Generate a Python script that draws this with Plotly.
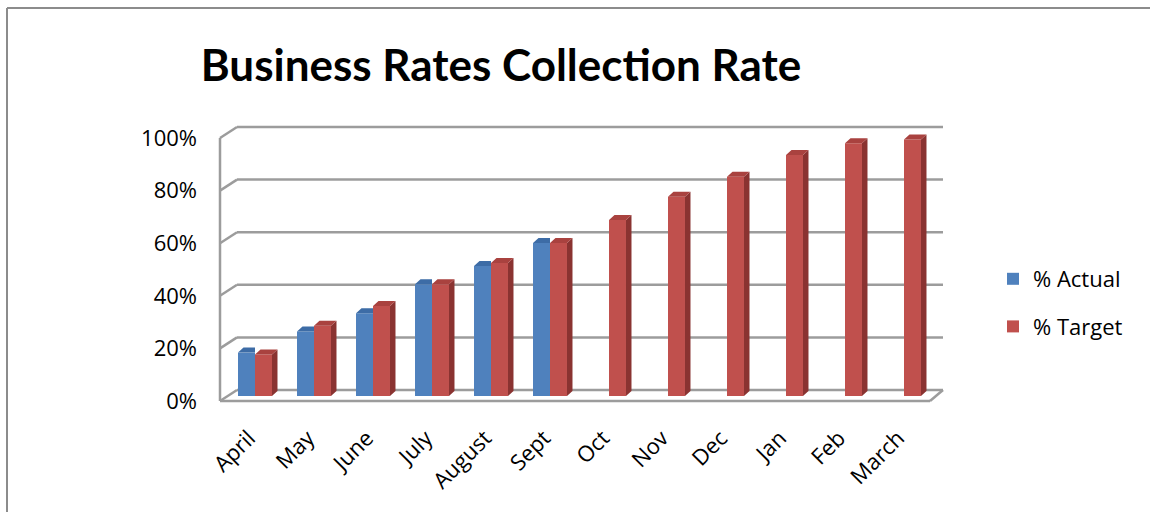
import plotly.graph_objects as go

# ---- data ----
months = ["April", "May", "June", "July", "August", "Sept",
          "Oct", "Nov", "Dec", "Jan", "Feb", "March"]
actual = [0.165, 0.245, 0.315, 0.425, 0.494, 0.582]
target = [0.158, 0.267, 0.342, 0.425, 0.506, 0.582,
          0.669, 0.758, 0.834, 0.916, 0.961, 0.975]
y_ticks = [0, 0.2, 0.4, 0.6, 0.8, 1.0]

# ---- styling ----
BLUE, BLUE_TOP = "#4F81BD", "#3D6CA6"
RED, RED_TOP, RED_SIDE = "#C0504D", "#A9423F", "#8A3331"
GRID = "#9C9C9C"
FONT = "Open Sans"

W, H = 1150, 512
# plot area in pixels and the pixel scale of the category / value axes
PX_L, PX_R, PX_T, PX_B = 214, 948, 118, 408
CAT0, CAT_STEP = 255, 59      # pixel of first category centre, px per category
VAL0, VAL_SCALE = 396, 263    # pixel of value 0 on the bar plane, px per 1.0


def xd(px):
    return (px - CAT0) / CAT_STEP


def yd(py):
    return (VAL0 - py) / VAL_SCALE


BAR_W = 0.288                 # width of a single column (category units)
DX, DY = 5.5 / CAT_STEP, 5 / VAL_SCALE   # 3-D extrusion of the columns
FRONT, BACK = yd(401), yd(390)           # floor offsets of front / back planes
XF_L, XB_L, XB_R, XF_R = xd(220), xd(237), xd(943), xd(930)

xa = [i - BAR_W / 2 for i in range(len(actual))]
xt = [i + BAR_W / 2 for i in range(len(target))]

fig = go.Figure()

fig.add_trace(go.Bar(x=xa, y=actual, width=BAR_W, name="% Actual",
                     marker=dict(color=BLUE, line=dict(width=0)),
                     legendgroup="a"))
fig.add_trace(go.Bar(x=xt, y=target, width=BAR_W, name="% Target",
                     marker=dict(color=RED, line=dict(width=0)),
                     legendgroup="t"))


def top_faces(xs, vals, clip_right):
    px, py = [], []
    for x, v in zip(xs, vals):
        l, r = x - BAR_W / 2, x + BAR_W / 2
        rr = r if clip_right else r + DX
        px += [l, r, rr, l + DX, l, None]
        py += [v, v, v + DY, v + DY, v, None]
    return px, py


def side_faces(xs, vals):
    px, py = [], []
    for x, v in zip(xs, vals):
        r = x + BAR_W / 2
        px += [r, r + DX, r + DX, r, r, None]
        py += [0, DY, v + DY, v, 0, None]
    return px, py


for (fx, fy), col in [
    (top_faces(xa, actual, True), BLUE_TOP),
    (side_faces(xt, target), RED_SIDE),
    (top_faces(xt, target, False), RED_TOP),
]:
    fig.add_trace(go.Scatter(x=fx, y=fy, mode="lines", fill="toself",
                             fillcolor=col, line=dict(width=0, color=col),
                             showlegend=False, hoverinfo="skip"))

# ---- 3-D walls and gridlines ----
shapes = []
line = dict(color=GRID, width=2.5)
for t in y_ticks:
    shapes.append(dict(type="line", xref="x", yref="y", layer="below",
                       x0=XB_L, x1=XB_R, y0=t + BACK, y1=t + BACK, line=line))
    shapes.append(dict(type="line", xref="x", yref="y", layer="below",
                       x0=XF_L, x1=XB_L, y0=t + FRONT, y1=t + BACK, line=line))
shapes.append(dict(type="line", xref="x", yref="y", layer="below",
                   x0=XF_L, x1=XF_L, y0=FRONT, y1=1 + FRONT, line=line))
shapes.append(dict(type="line", xref="x", yref="y", layer="below",
                   x0=XF_L, x1=XF_R, y0=FRONT, y1=FRONT, line=line))
shapes.append(dict(type="line", xref="x", yref="y", layer="below",
                   x0=XF_R, x1=XB_R, y0=FRONT, y1=BACK, line=line))

# chart-area border (top and left edges)
pw, ph = PX_R - PX_L, PX_B - PX_T


def xp(px):
    return (px - PX_L) / pw


def yp(py):
    return (PX_B - py) / ph


border = dict(color="#8C8C8C", width=2)
shapes.append(dict(type="line", xref="paper", yref="paper",
                   x0=xp(7), x1=xp(W + 5), y0=yp(8), y1=yp(8), line=border))
shapes.append(dict(type="line", xref="paper", yref="paper",
                   x0=xp(7), x1=xp(7), y0=yp(8), y1=yp(H + 5), line=border))

fig.update_layout(
    width=W, height=H,
    margin=dict(l=PX_L, r=W - PX_R, t=PX_T, b=H - PX_B, autoexpand=False),
    paper_bgcolor="white", plot_bgcolor="white",
    barmode="overlay",
    font=dict(family=FONT, color="#000000", size=22),
    title=dict(text="<b>Business Rates Collection Rate</b>",
               font=dict(family="Lato", size=44, color="#000000"),
               x=501 / W, xref="container", xanchor="center",
               y=1 - 66 / H, yref="container", yanchor="middle"),
    xaxis=dict(range=[xd(PX_L), xd(PX_R)], tickvals=list(range(len(months))),
               ticktext=months, tickangle=-45, showgrid=False, zeroline=False,
               showline=False, ticks="", ticklabelstandoff=12,
               ticklabelshift=-6, tickfont=dict(size=22)),
    yaxis=dict(range=[yd(PX_B), yd(PX_T)], tickvals=y_ticks, tickformat=".0%",
               showgrid=False, zeroline=False, showline=False, ticks="",
               ticklabelstandoff=16, ticklabelshift=5,
               tickfont=dict(size=22)),
    shapes=shapes,
    legend=dict(x=xp(993), y=yp(258), xanchor="left", yanchor="top",
                font=dict(size=22), tracegroupgap=16,
                bgcolor="rgba(0,0,0,0)", itemclick=False),
    hovermode=False,
)

fig.write_html("out.html")
